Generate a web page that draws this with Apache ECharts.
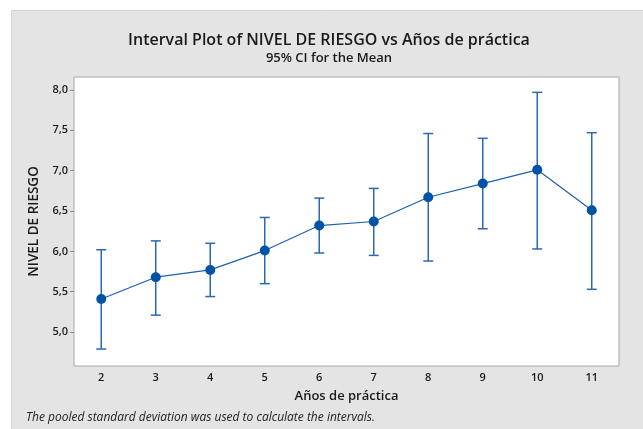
<!DOCTYPE html>
<html><head><meta charset="utf-8">
<script src="https://cdn.jsdelivr.net/npm/echarts@6/dist/echarts.min.js"></script>
<style>html,body{margin:0;padding:0;background:#fff}#c{width:643px;height:429px}</style>
</head><body><div id="c"></div>
<script>
const categories = ['2','3','4','5','6','7','8','9','10','11'];
const means = [5.41, 5.68, 5.77, 6.01, 6.32, 6.37, 6.67, 6.84, 7.01, 6.51];
const lower = [4.79, 5.21, 5.44, 5.60, 5.98, 5.95, 5.88, 6.28, 6.03, 5.53];
const upper = [6.02, 6.13, 6.10, 6.42, 6.66, 6.78, 7.46, 7.40, 7.97, 7.47];
const yTicks = [5.0, 5.5, 6.0, 6.5, 7.0, 7.5, 8.0];
const titleText = 'Interval Plot of NIVEL DE RIESGO vs Años de práctica';
const subtitleText = '95% CI for the Mean';
const footnoteText = 'The pooled standard deviation was used to calculate the intervals.';

const F = '"Open Sans", "Noto Sans", sans-serif';
const chart = echarts.init(document.getElementById('c'), null, {renderer: 'canvas'});
const errData = categories.map((c, i) => [i, lower[i], upper[i]]);
chart.setOption({
  animation: false,
  backgroundColor: '#ffffff',
  graphic: [
    {type: 'rect', left: 11, top: 10, shape: {width: 632, height: 419}, style: {fill: '#e4e4e4', stroke: '#d6d6d6', lineWidth: 1}, z: -10},
    {type: 'text', x: 329, y: 40, style: {text: titleText, font: '600 16px ' + F, fill: '#1a1a1a', align: 'center', verticalAlign: 'middle'}},
    {type: 'text', x: 329, y: 58, style: {text: subtitleText, font: '600 13px ' + F, fill: '#1a1a1a', align: 'center', verticalAlign: 'middle'}},
    {type: 'text', left: 26, top: 412, style: {text: footnoteText, font: 'italic 12px ' + F, fill: '#222'}}
  ],
  grid: {left: 74, top: 77, right: 24, bottom: 63, show: true, backgroundColor: '#ffffff', borderColor: '#a8a8a8', borderWidth: 1},
  xAxis: {
    type: 'category', data: categories, boundaryGap: true,
    name: 'Años de práctica', nameLocation: 'middle', nameGap: 24,
    nameTextStyle: {fontFamily: F, fontSize: 13, fontWeight: 600, color: '#1a1a1a'},
    axisLine: {show: false},
    axisTick: {alignWithLabel: true, length: 4, lineStyle: {color: '#888'}},
    axisLabel: {fontFamily: F, fontSize: 11, fontWeight: 600, color: '#1a1a1a', margin: 6},
    splitLine: {show: false}
  },
  yAxis: {
    type: 'value', min: 4.58, max: 8.16,
    name: 'NIVEL DE RIESGO', nameLocation: 'middle', nameGap: 29, nameRotate: 90,
    nameTextStyle: {fontFamily: F, fontSize: 13.5, fontWeight: 600, color: '#1a1a1a'},
    axisLine: {show: false},
    axisTick: {show: true, length: 4, customValues: yTicks, lineStyle: {color: '#888'}},
    axisLabel: {fontFamily: F, fontSize: 11, fontWeight: 600, color: '#1a1a1a', margin: 6, customValues: yTicks,
      formatter: v => v.toFixed(1).replace('.', ',')},
    splitLine: {show: false}
  },
  series: [
    {
      type: 'custom',
      data: errData,
      z: 2,
      renderItem: function (params, api) {
        const x = api.value(0);
        const lo = api.coord([x, api.value(1)]);
        const hi = api.coord([x, api.value(2)]);
        const w = 5;
        const style = {stroke: '#2d68b4', lineWidth: 1.5, fill: 'none'};
        return {type: 'group', children: [
          {type: 'line', shape: {x1: lo[0], y1: lo[1], x2: hi[0], y2: hi[1]}, style: style},
          {type: 'line', shape: {x1: lo[0] - w, y1: lo[1], x2: lo[0] + w, y2: lo[1]}, style: style},
          {type: 'line', shape: {x1: hi[0] - w, y1: hi[1], x2: hi[0] + w, y2: hi[1]}, style: style}
        ]};
      }
    },
    {
      type: 'line', data: means, z: 3,
      symbol: 'circle', symbolSize: 10,
      lineStyle: {color: '#2060b0', width: 1.2},
      itemStyle: {color: '#0053a6'}
    }
  ]
});
</script></body></html>
